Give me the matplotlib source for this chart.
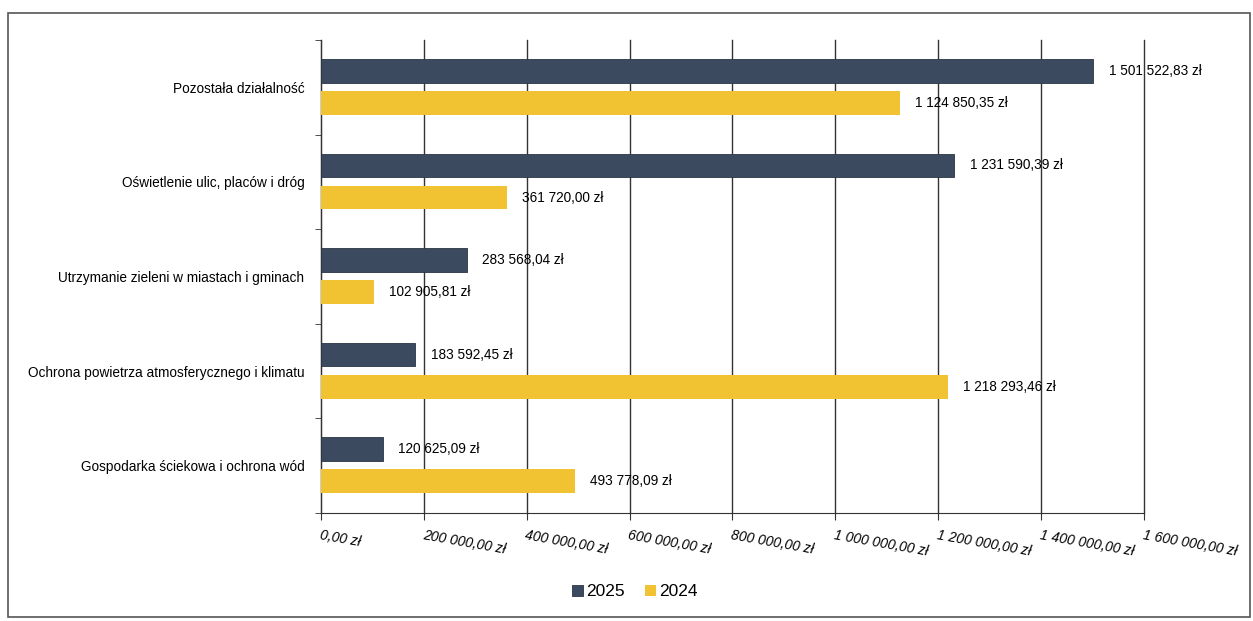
import matplotlib.pyplot as plt
import numpy as np
from matplotlib.patches import Rectangle

plt.rcParams['font.family'] = ['Liberation Sans', 'DejaVu Sans']

# data
categories = ["Pozostała działalność",
              "Oświetlenie ulic, placów i dróg",
              "Utrzymanie zieleni w miastach i gminach",
              "Ochrona powietrza atmosferycznego i klimatu",
              "Gospodarka ściekowa i ochrona wód"]
val_2025 = [1501522.83, 1231590.39, 283568.04, 183592.45, 120625.09]
val_2024 = [1124850.35, 361720.00, 102905.81, 1218293.46, 493778.09]
ticks = np.arange(0, 1600001, 200000)

dark = "#3b4a5e"
yellow = "#f1c232"


def zl(v):
    s = f"{v:,.2f}"
    s = s.replace(",", " ").replace(".", ",")
    return s + " zł"


fig = plt.figure(figsize=(12.53, 6.21), dpi=100)
ax = fig.add_axes([321 / 1253, 1 - 513 / 621, 823 / 1253, 473 / 621])

# frame around the chart
fig.patches.append(Rectangle((8 / 1253, 1 - 617 / 621), 1242 / 1253, 604 / 621,
                             transform=fig.transFigure, fill=False,
                             edgecolor="#555555", linewidth=1.2))

y = np.arange(len(categories))
h = 0.25
ax.barh(y - 0.175, val_2025, height=h, color=dark, edgecolor="#2a3443",
        linewidth=0.6, label="2025", zorder=3)
ax.barh(y + 0.165, val_2024, height=h, color=yellow, label="2024", zorder=3)

for i in range(len(categories)):
    ax.text(val_2025[i] + 30000, y[i] - 0.175, zl(val_2025[i]),
            va="center", ha="left", fontsize=9.8, zorder=4)
    ax.text(val_2024[i] + 30000, y[i] + 0.165, zl(val_2024[i]),
            va="center", ha="left", fontsize=9.8, zorder=4)

ax.set_xlim(0, 1600000)
ax.set_ylim(4.5, -0.5)
ax.set_xticks(ticks)
ax.set_xticklabels([zl(t) for t in ticks], rotation=-10, ha="left", va="top",
                   rotation_mode="anchor", fontstyle="italic", fontsize=10)
ax.set_yticks(y)
ax.set_yticklabels(categories, fontsize=9.8)
ax.tick_params(axis="y", length=0, pad=12)
ax.set_yticks(np.arange(-0.5, 5, 1), minor=True)
ax.tick_params(axis="y", which="minor", length=4, color="#333333")
ax.tick_params(axis="x", length=5, color="#333333", pad=6)

ax.grid(axis="x", color="#333333", linewidth=1.0, zorder=0)
for gl in ax.get_xgridlines():
    gl.set_clip_on(False)
ax.spines["top"].set_visible(False)
ax.spines["right"].set_visible(False)
ax.spines["left"].set_color("#333333")
ax.spines["bottom"].set_color("#333333")

ax.legend(loc="center", bbox_to_anchor=(635 / 1253, 1 - 592 / 621),
          bbox_transform=fig.transFigure, ncol=2, frameon=False, fontsize=12.5,
          handlelength=0.6, handleheight=0.6, handletextpad=0.2,
          columnspacing=1.2)

plt.savefig("out.png", dpi=100)
